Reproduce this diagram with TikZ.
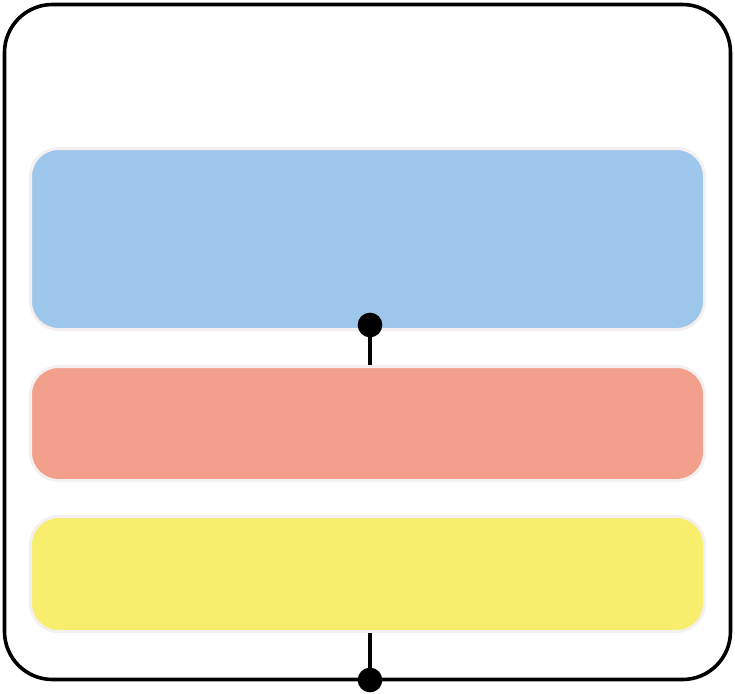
\documentclass[tikz,border=0pt]{standalone}
\definecolor{lyblue}{HTML}{9DC7EA}
\definecolor{lyred}{HTML}{F2A08B}
\definecolor{lyyellow}{HTML}{F7EE6E}
\definecolor{lyedge}{HTML}{F5F0F0}

\begin{document}
\begin{tikzpicture}[x=0.75pt, y=-0.75pt,
  layer/.style={draw=lyedge, line width=2.25pt, rounded corners=21pt,
    inner sep=0pt, minimum width=505.5pt},
  pin/.style={circle, fill=black, inner sep=0pt, minimum size=18.5pt}]
  \useasboundingbox (0,0) rectangle (735,693);
  % outer frame
  \draw[line width=2.7pt, rounded corners=36pt] (4.5,4.5) rectangle (730.5,679.5);
  % stacked layers
  \node[layer, fill=lyblue, minimum height=135.75pt] (top) at (367.5,239) {};
  \node[layer, fill=lyred, minimum height=85.5pt] (mid) at (367.5,423.5) {};
  \node[layer, fill=lyyellow, minimum height=86.25pt] (bot) at (367.5,574) {};
  % pins and links
  \node[pin] (pintop) at (370,325) {};
  \node[pin] (pinbot) at (370,680) {};
  \draw[line width=3.5pt] (pintop.center) -- (mid.north -| pintop);
  \draw[line width=3.5pt] (bot.south -| pinbot) -- (pinbot.center);
\end{tikzpicture}
\end{document}
